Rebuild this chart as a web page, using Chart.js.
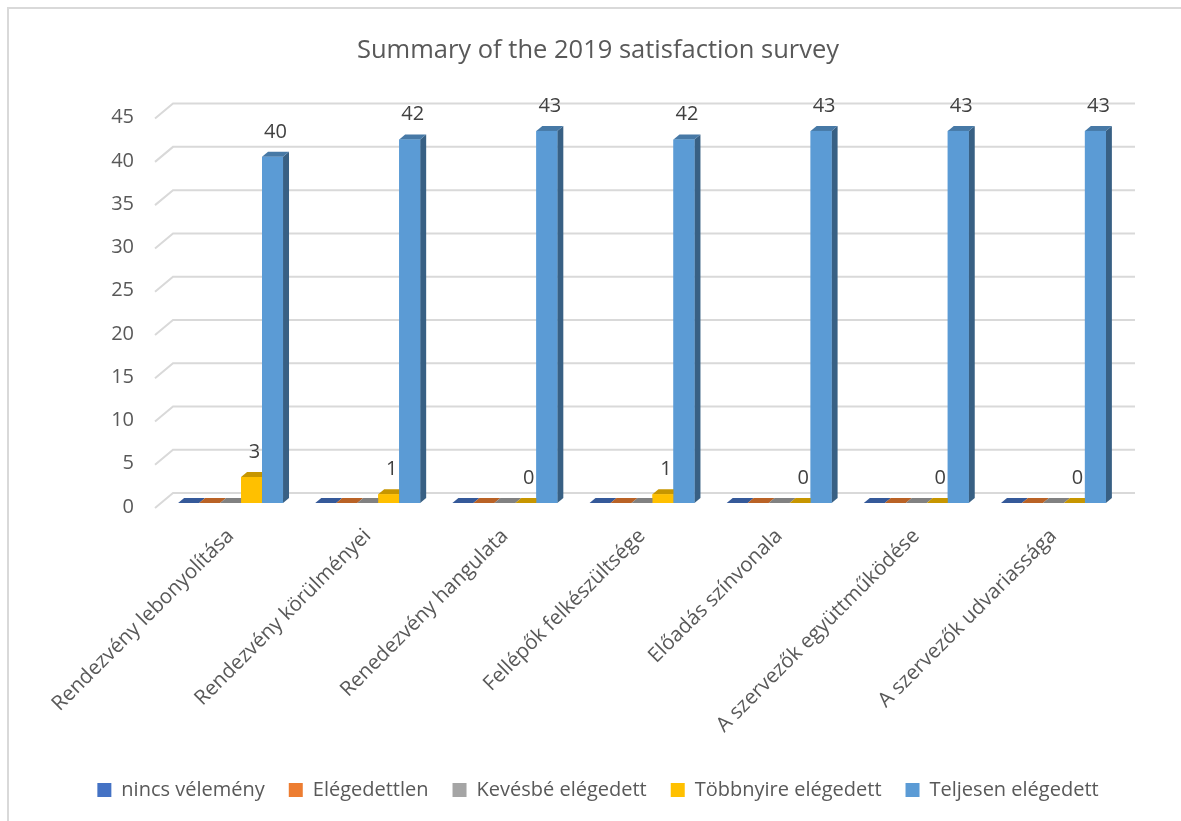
<!DOCTYPE html>
<html>
<head>
<meta charset="utf-8">
<script src="https://cdn.jsdelivr.net/npm/chart.js@4"></script>
<style>
  body { margin: 0; background: #fff; }
  #wrap { position: relative; width: 1181px; height: 821px; }
</style>
</head>
<body>
<div id="wrap"><canvas id="chart" width="1181" height="821"></canvas></div>
<script>
// Les données du graphique
let categories = [
    "Rendezvény lebonyolítása",
    "Rendezvény körülményei",
    "Renedezvény hangulata",
    "Fellépők felkészültsége",
    "Előadás színvonala",
    "A szervezők együttműködése",
    "A szervezők udvariassága"
]
let seriesNames = ["nincs vélemény", "Elégedettlen", "Kevésbé elégedett", "Többnyire elégedett", "Teljesen elégedett"]
let nincsVelemeny = [0, 0, 0, 0, 0, 0, 0]
let elegedettlen = [0, 0, 0, 0, 0, 0, 0]
let kevesbeElegedett = [0, 0, 0, 0, 0, 0, 0]
let tobbnyireElegedett = [3, 1, 0, 1, 0, 0, 0]
let teljesenElegedett = [40, 42, 43, 42, 43, 43, 43]
let yTicks = [0, 5, 10, 15, 20, 25, 30, 35, 40, 45]

let colors = ["#4472C4", "#ED7D31", "#A5A5A5", "#FFC000", "#5B9BD5"]
let labelledSeries = [3, 4]

// Ici on assombrit une couleur pour les faces 3D
function shade(hex, f) {
    let n = parseInt(hex.slice(1), 16)
    let r = Math.round(((n >> 16) & 255) * f)
    let g = Math.round(((n >> 8) & 255) * f)
    let b = Math.round((n & 255) * f)
    return `rgb(${r},${g},${b})`
}

let font = "'Open Sans', 'DejaVu Sans', sans-serif"
let dx = 6, dy = 5

// Ici le plugin qui dessine le cadre, la grille en perspective et les barres 3D
let fake3d = {
    id: 'fake3d',
    beforeDraw(chart) {
        let ctx = chart.ctx
        ctx.save()
        ctx.strokeStyle = "#d9d9d9"
        ctx.lineWidth = 2
        ctx.strokeRect(8, 8, 1200, 900)
        ctx.restore()
    },
    beforeDatasetsDraw(chart) {
        let ctx = chart.ctx
        let y = chart.scales.y
        let area = chart.chartArea
        ctx.save()
        ctx.strokeStyle = "#d9d9d9"
        ctx.lineWidth = 2
        yTicks.forEach(v => {
            let py = y.getPixelForValue(v)
            ctx.beginPath()
            ctx.moveTo(area.left - 7, py + 5)
            ctx.lineTo(area.left + 11, py - 10)
            ctx.lineTo(area.right + 13, py - 10)
            ctx.stroke()
        })
        ctx.restore()
    },
    afterDatasetsDraw(chart) {
        let ctx = chart.ctx
        ctx.save()
        categories.forEach((c, i) => {
            chart.data.datasets.forEach((ds, d) => {
                let el = chart.getDatasetMeta(d).data[i]
                let p = el.getProps(['x', 'y', 'base', 'width'], true)
                let left = p.x - p.width / 2
                let right = p.x + p.width / 2
                let top = Math.min(p.y, p.base)
                let bottom = p.base
                // face de côté
                ctx.fillStyle = shade(colors[d], 0.62)
                ctx.beginPath()
                ctx.moveTo(right, top)
                ctx.lineTo(right + dx, top - dy)
                ctx.lineTo(right + dx, bottom - dy)
                ctx.lineTo(right, bottom)
                ctx.closePath()
                ctx.fill()
                // face du dessus
                ctx.fillStyle = shade(colors[d], 0.78)
                ctx.beginPath()
                ctx.moveTo(left, top)
                ctx.lineTo(left + dx, top - dy)
                ctx.lineTo(right + dx, top - dy)
                ctx.lineTo(right, top)
                ctx.closePath()
                ctx.fill()
                // face avant
                ctx.fillStyle = colors[d]
                ctx.fillRect(left, top, right - left, bottom - top)
            })
        })
        // Ici les étiquettes de valeur
        ctx.fillStyle = "#404040"
        ctx.font = "20px " + font
        ctx.textAlign = "center"
        ctx.textBaseline = "middle"
        labelledSeries.forEach(d => {
            chart.getDatasetMeta(d).data.forEach((el, i) => {
                let val = chart.data.datasets[d].data[i]
                ctx.fillText(String(val), el.x + 3, el.y - 25)
            })
        })
        ctx.restore()
    }
}

let data = [nincsVelemeny, elegedettlen, kevesbeElegedett, tobbnyireElegedett, teljesenElegedett]

new Chart(document.getElementById('chart'), {
    type: 'bar',
    data: {
        labels: categories,
        datasets: seriesNames.map((name, k) => ({
            label: name,
            data: data[k],
            backgroundColor: colors[k],
            borderWidth: 0,
            categoryPercentage: 0.765,
            barPercentage: 1.0
        }))
    },
    options: {
        responsive: false,
        animation: false,
        events: [],
        layout: { padding: { left: 47, right: 32, top: 10, bottom: 11 } },
        plugins: {
            title: {
                display: true,
                text: "Summary of the 2019 satisfaction survey",
                color: "#595959",
                font: { family: font, size: 25.5, weight: 'normal' },
                padding: { top: 25, bottom: 48 }
            },
            legend: {
                position: 'bottom',
                labels: {
                    color: "#595959",
                    font: { family: font, size: 20 },
                    boxWidth: 14,
                    boxHeight: 14,
                    padding: 24
                }
            },
            tooltip: { enabled: false }
        },
        scales: {
            x: {
                grid: { display: false },
                border: { display: false },
                ticks: {
                    color: "#595959",
                    font: { family: font, size: 20.5 },
                    minRotation: 45,
                    maxRotation: 45,
                    padding: 13
                },
                afterFit(scale) {
                    scale.height = 253
                    scale.paddingLeft = 0
                    scale.paddingRight = 59
                }
            },
            y: {
                min: 0,
                max: 45,
                grid: { display: false },
                border: { display: false },
                ticks: {
                    stepSize: 5,
                    color: "#595959",
                    font: { family: font, size: 20 },
                    padding: 20,
                    labelOffset: 4
                },
                afterFit(scale) {
                    scale.width = 115
                    scale.paddingTop = 0
                    scale.paddingBottom = 0
                }
            }
        }
    },
    plugins: [fake3d]
})
</script>
</body>
</html>
